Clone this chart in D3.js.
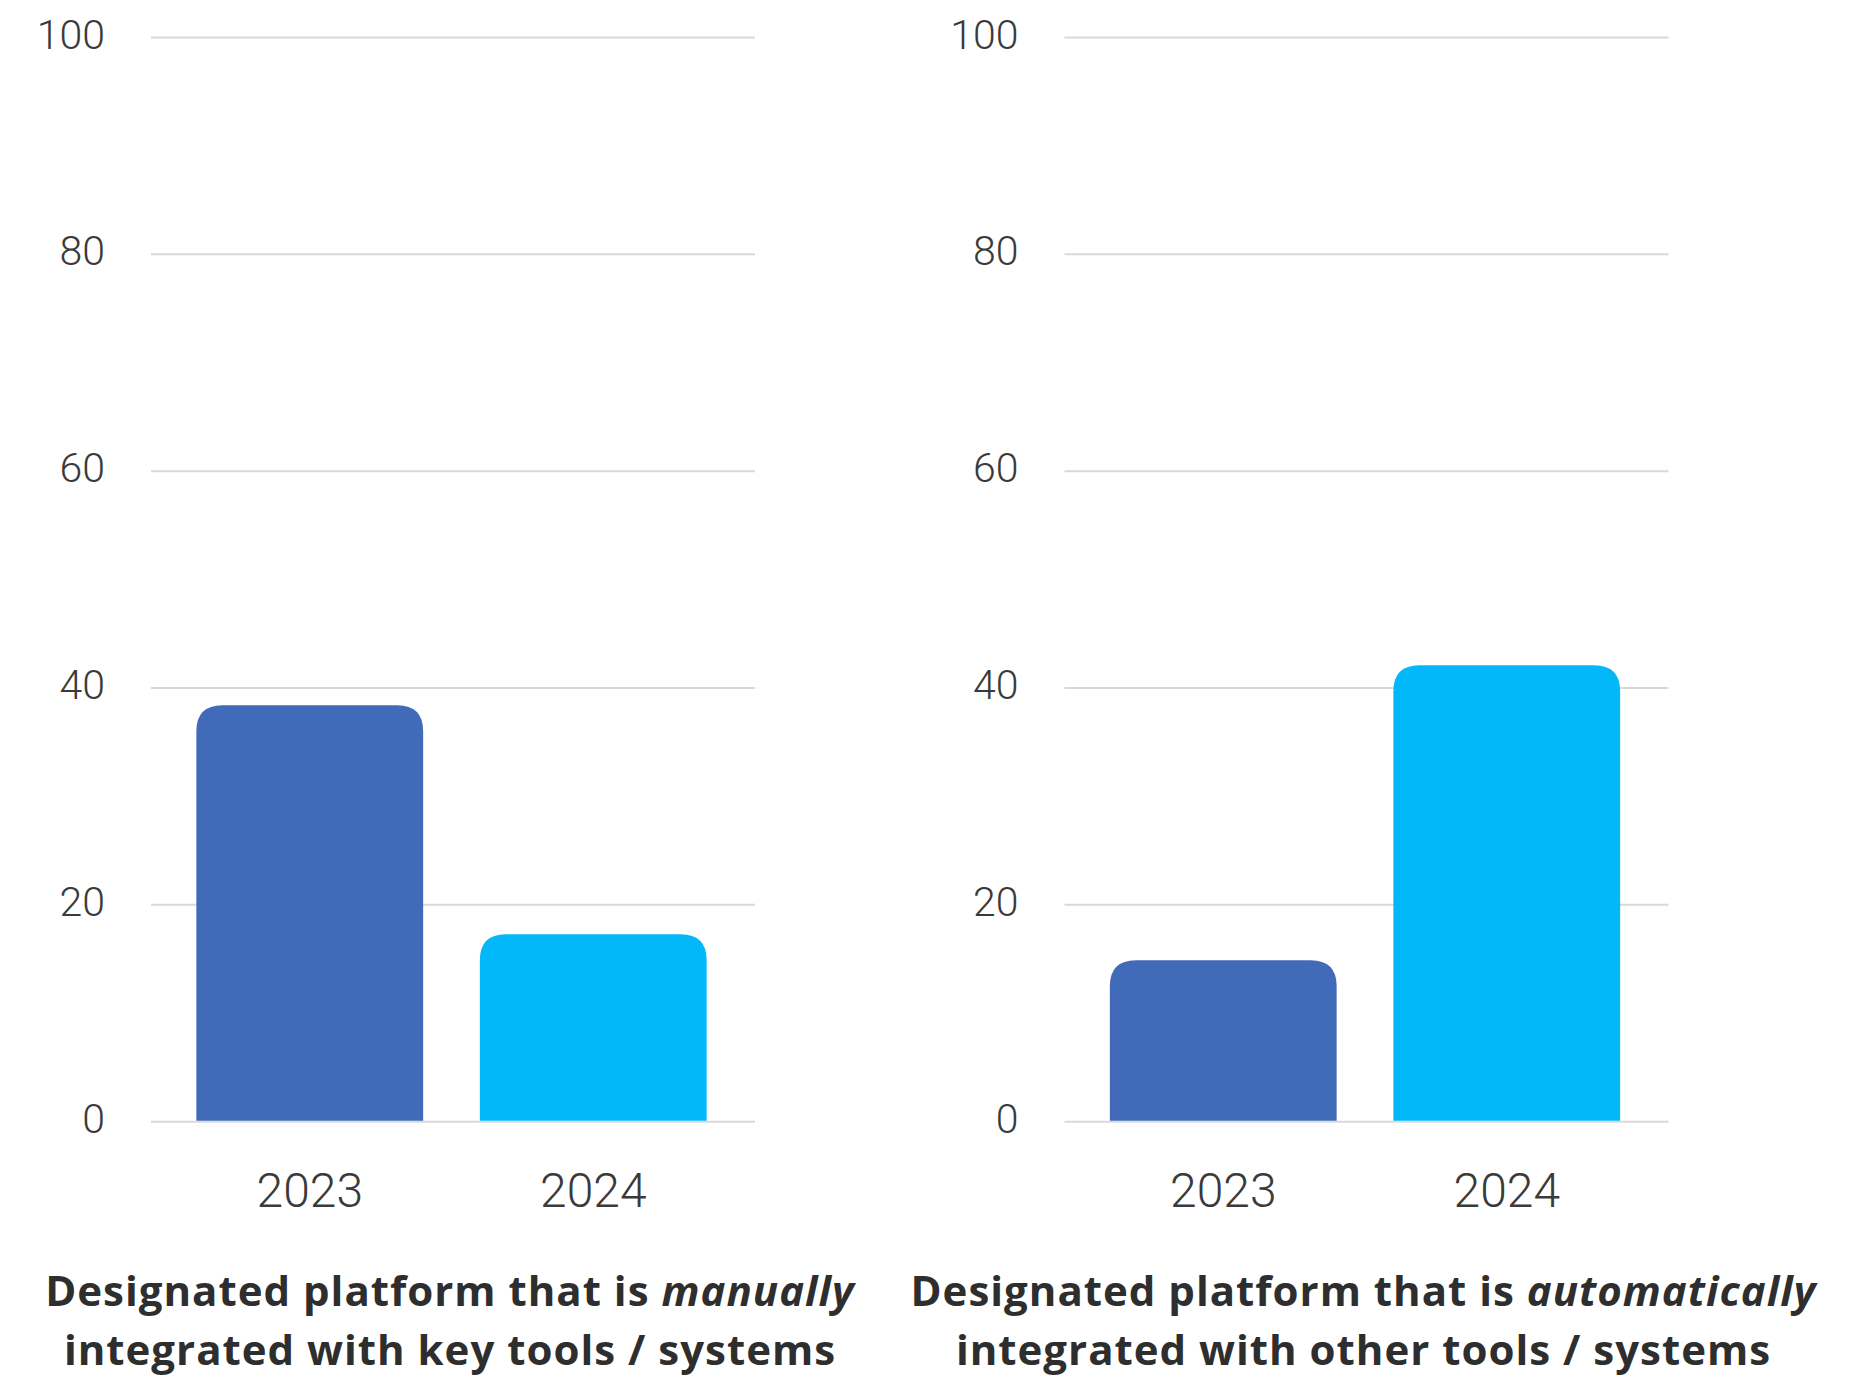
<!DOCTYPE html>
<html>
<head>
<meta charset="utf-8">
<script src="https://cdn.jsdelivr.net/npm/d3@7"></script>
<style>
  html, body { margin: 0; padding: 0; background: #ffffff; }
  svg { display: block; }
</style>
</head>
<body>
<svg id="chart" width="1875" height="1378"></svg>
<script>
// ---- data ----
const years = ["2023", "2024"];
const manualValues = [38.4, 17.3];
const automaticValues = [14.9, 42.1];
const yTicks = [0, 20, 40, 60, 80, 100];
const barColors = ["#416BB9", "#02B8F8"];

// title lines: each line is a list of [text, italic] runs
const manualTitle = [
  [["Designated platform that is ", false], ["manually", true]],
  [["integrated with key tools / systems", false]]
];
const automaticTitle = [
  [["Designated platform that is ", false], ["automatically", true]],
  [["integrated with other tools / systems", false]]
];

const panels = [
  { values: manualValues, title: manualTitle, left: 151 },
  { values: automaticValues, title: automaticTitle, left: 1064.5 }
];

// ---- layout ----
const plotWidth = 604;
const yTop = 37.5, yBottom = 1121.7;
const radius = 26;

const svg = d3.select("#chart");

const y = d3.scaleLinear().domain([0, 100]).range([yBottom, yTop]);

function topRoundedBar(x0, x1, yTopPx, yBase, r) {
  const rr = Math.min(r, (x1 - x0) / 2, yBase - yTopPx);
  return `M${x0},${yBase}` +
    `L${x0},${yTopPx + rr}` +
    `Q${x0},${yTopPx} ${x0 + rr},${yTopPx}` +
    `L${x1 - rr},${yTopPx}` +
    `Q${x1},${yTopPx} ${x1},${yTopPx + rr}` +
    `L${x1},${yBase}Z`;
}

panels.forEach(p => {
  const g = svg.append("g").attr("transform", `translate(${p.left},0)`);

  const x = d3.scaleBand()
    .domain(years)
    .range([17, 584])
    .paddingInner(0.2)
    .paddingOuter(0.1);

  // horizontal gridlines
  g.append("g")
    .selectAll("line")
    .data(yTicks)
    .join("line")
    .attr("x1", 0)
    .attr("x2", plotWidth)
    .attr("y1", d => y(d))
    .attr("y2", d => y(d))
    .attr("stroke", "#d9d9d9")
    .attr("stroke-width", 2);

  // y-axis labels
  const yAxis = d3.axisLeft(y).tickValues(yTicks).tickSize(0).tickPadding(46);
  const ya = g.append("g").call(yAxis);
  ya.select(".domain").remove();
  ya.selectAll("text")
    .attr("dy", null)
    .attr("y", 10.5)
    .attr("font-family", "Roboto, 'Noto Sans', sans-serif")
    .attr("font-weight", 300)
    .attr("font-size", 41)
    .attr("fill", "#3a3a3a");

  // bars with rounded tops
  g.append("g")
    .selectAll("path")
    .data(p.values.map((v, i) => ({ year: years[i], value: v, i })))
    .join("path")
    .attr("d", d => topRoundedBar(x(d.year), x(d.year) + x.bandwidth(), y(d.value), y(0) - 1, radius))
    .attr("fill", d => barColors[d.i]);

  // x-axis labels
  const xAxis = d3.axisBottom(x).tickSize(0).tickPadding(0);
  const xa = g.append("g").call(xAxis);
  xa.select(".domain").remove();
  xa.selectAll("text")
    .attr("dy", null)
    .attr("y", 1207)
    .attr("font-family", "Roboto, 'Noto Sans', sans-serif")
    .attr("font-weight", 300)
    .attr("font-size", 48)
    .attr("fill", "#3a3a3a");

  // panel title
  const title = g.append("text")
    .attr("text-anchor", "middle")
    .attr("font-family", "'Open Sans', 'Noto Sans', sans-serif")
    .attr("font-weight", 700)
    .attr("font-size", 42)
    .attr("letter-spacing", 1)
    .attr("fill", "#2e2e2e");
  p.title.forEach((line, li) => {
    line.forEach((run, ri) => {
      const t = title.append("tspan")
        .text(run[0])
        .attr("font-style", run[1] ? "italic" : "normal");
      if (ri === 0) t.attr("x", plotWidth / 2 - 3).attr("y", 1306 + li * 59);
    });
  });
});
</script>
</body>
</html>
